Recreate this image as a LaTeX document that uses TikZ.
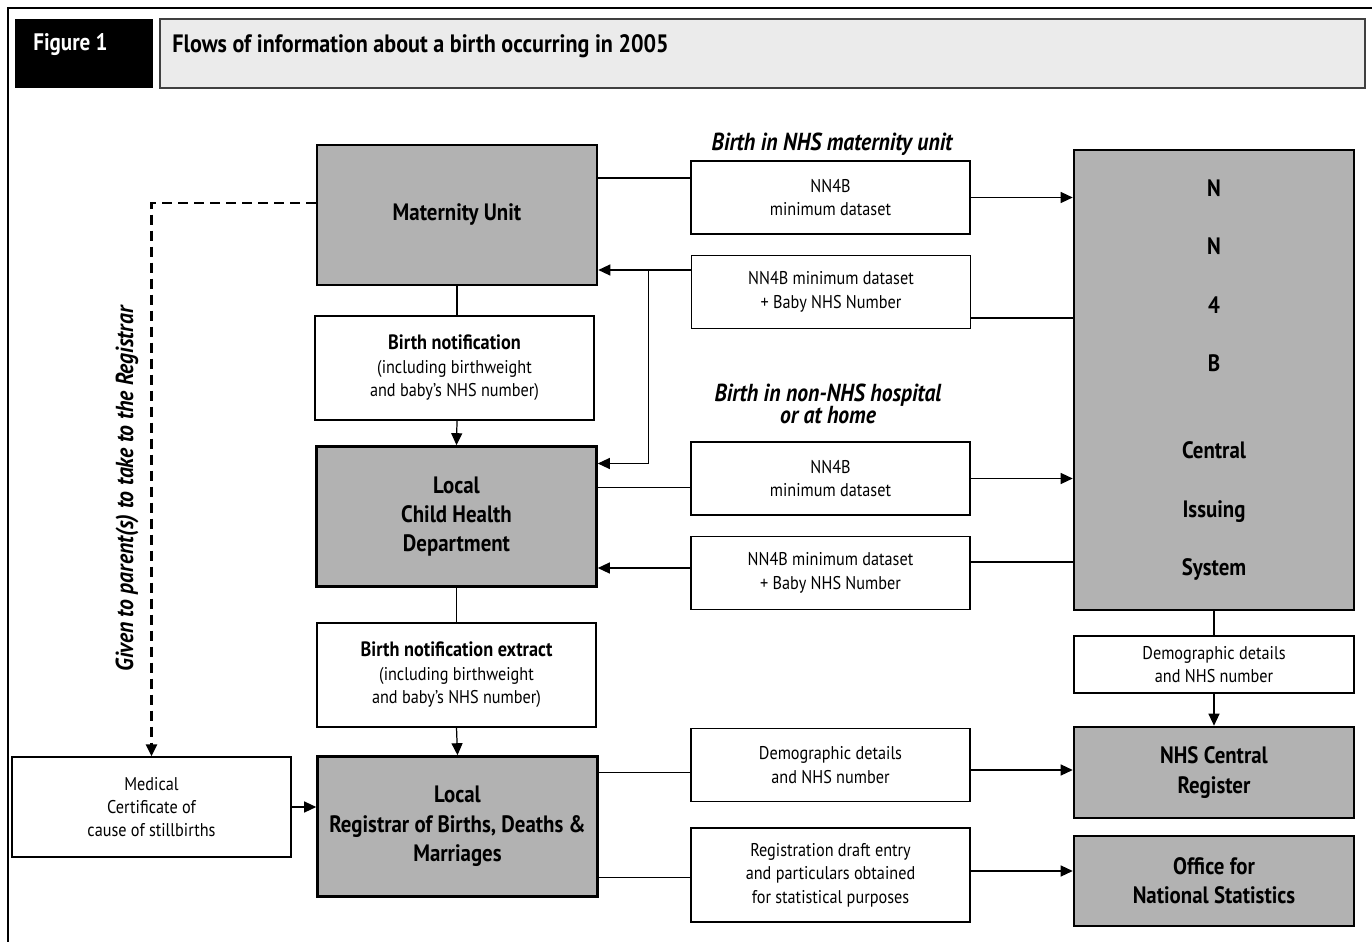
\documentclass[tikz,border=0pt]{standalone}
\usepackage{fontspec}
\setmainfont{PT Sans}[FakeStretch=0.88]
\usetikzlibrary{arrows.meta, calc}
\definecolor{boxgray}{HTML}{B2B2B2}
\definecolor{headgray}{HTML}{EBEBEB}
\definecolor{headline}{HTML}{404040}

\begin{document}
\begin{tikzpicture}[
  x=0.02cm, y=-0.02cm,
  unit/.style={draw, line width=1.5pt, fill=boxgray, inner sep=0pt, align=center,
               minimum width=5.6cm, minimum height=2.8cm,
               font=\fontsize{13.5}{16.7}\selectfont\bfseries},
  data/.style={draw, line width=0.7pt, fill=white, inner sep=0pt, align=center,
               minimum width=5.58cm, minimum height=1.46cm,
               font=\fontsize{10.5}{13.3}\selectfont},
  note/.style={font={\fontsize{14}{12.5}\selectfont\setlength{\lineskiplimit}{-20pt}\bfseries\itshape},
               align=center, inner sep=0pt},
  flow/.style={-{Triangle[length=0.24cm, width=0.22cm]}, line width=0.7pt},
  link/.style={line width=0.7pt}
]
\useasboundingbox (0,0) rectangle (1372,942);
\draw[line width=1pt] (8,942) -- (8,8) -- (1372,8);

% heading
\node[fill=black, minimum width=2.76cm, minimum height=1.38cm, inner sep=0pt] (figbox) at (84,53.5) {};
\node[anchor=west, text=white, inner sep=0pt, font=\fontsize{13.6}{14}\selectfont\bfseries] (figlabel) at (33,45) {Figure 1};
\node[draw=headline, line width=1pt, fill=headgray, minimum width=24.1cm, minimum height=1.38cm, inner sep=0pt] (titlebox) at (762.5,53.5) {};
\node[anchor=west, inner sep=0pt, font=\fontsize{14.3}{14}\selectfont\bfseries] (title) at (172,46) {Flows of information about a birth occurring in 2005};

% organisations
\node[unit] (mu)  at (457,215)     {Maternity Unit};
\node[unit] (ch)  at (456.5,516.5) {Local\\Child Health\\Department};
\node[unit] (reg) at (457.5,826.5) {Local\\Registrar of Births, Deaths \&\\Marriages};
\node[unit, minimum height=9.2cm, font=\fontsize{13.5}{33.2}\selectfont\bfseries]
      (cis) at (1214,380) {N\\N\\4\\B\\[16.6pt]Central\\Issuing\\System};
\node[unit, minimum height=1.82cm] (ncr) at (1214,772.5) {NHS Central\\Register};
\node[unit, minimum height=1.8cm]  (ons) at (1214,881)   {Office for\\National Statistics};

% data passed on
\node[data] (nnA) at (830.5,197.5) {NN4B\\minimum dataset};
\node[data] (nnB) at (831,292)     {NN4B minimum dataset\\+ Baby NHS Number};
\node[data] (nnC) at (830.5,478.5) {NN4B\\minimum dataset};
\node[data] (nnD) at (830.5,573)   {NN4B minimum dataset\\+ Baby NHS Number};
\node[data] (dmM) at (830.5,765)   {Demographic details\\and NHS number};
\node[data, minimum height=1.88cm] (rde) at (830.5,875) {Registration draft entry\\and particulars obtained\\for statistical purposes};
\node[data, minimum height=2.08cm] (bn)  at (454.5,368) {{\fontsize{11.8}{13.3}\selectfont\bfseries Birth notification}\\(including birthweight\\and baby’s NHS number)};
\node[data, minimum height=2.08cm] (bne) at (456.5,675) {{\fontsize{11.8}{13.3}\selectfont\bfseries Birth notification extract}\\(including birthweight\\and baby’s NHS number)};
\node[data, minimum width=5.6cm, minimum height=1.14cm] (dmR) at (1214,664.5) {Demographic details\\and NHS number};
\node[data, minimum height=2cm] (mc) at (151.5,807) {Medical\\Certificate of\\cause of stillbirths};

\node[note] (nhsnote)  at (832,144) {Birth in NHS maternity unit};
\node[note] (homenote) at (828,404) {Birth in non-NHS hospital\\or at home};
\node[note, rotate=90] (givennote) at (127,489) {Given to parent(s) to take to the Registrar};

% birth in NHS maternity unit
\draw[link] ($(mu.east)+(0,-37)$) coordinate (a1) -- (a1 -| nnA.west);
\draw[flow] (nnA.east) -- (nnA.east -| cis.west);
\draw[link] ($(nnB.east)+(0,26)$) coordinate (b1) -- (b1 -| cis.west);
\draw[flow] ($(nnB.west)+(0,-22)$) coordinate (b2) -- (b2 -| mu.east);
\coordinate (j) at ($(b2 -| mu.east)!0.54!(b2)$);
\draw[flow] (j) |- ($(ch.east)+(0,-53)$);

% birth in non-NHS hospital or at home
\draw[link] ($(ch.east)+(0,-29)$) coordinate (c1) -- (c1 -| nnC.west);
\draw[flow] (nnC.east) -- (nnC.east -| cis.west);
\draw[link] ($(nnD.east)+(0,-11)$) coordinate (d1) -- (d1 -| cis.west);
\draw[flow] ($(nnD.west)+(0,-5)$) coordinate (d2) -- (d2 -| ch.east);

% down the left column
\draw[link] (mu.south) -- (mu.south |- bn.north);
\draw[flow] (bn.south -| mu.south) -- (ch.north);
\draw[link] (ch.south) -- (ch.south |- bne.north);
\draw[flow] (bne.south) -- (reg.north);
\draw[flow, dashed, line width=1.3pt, dash pattern=on 0.2cm off 0.12cm]
      ($(mu.west)+(0,-12)$) -| (mc.north);
\draw[flow] (mc.east) -- (mc.east -| reg.west);

% registration
\draw[link] (cis.south) -- (dmR.north);
\draw[flow] (dmR.south) -- (ncr.north);
\draw[link] ($(reg.east)+(0,-54)$) coordinate (e1) -- (e1 -| dmM.west);
\draw[flow] ($(dmM.east)+(0,5)$) coordinate (e2) -- (e2 -| ncr.west);
\draw[link] ($(reg.east)+(0,51)$) coordinate (f1) -- (f1 -| rde.west);
\draw[flow] ($(rde.east)+(0,-4)$) coordinate (f2) -- (f2 -| ons.west);
\end{tikzpicture}
\end{document}
